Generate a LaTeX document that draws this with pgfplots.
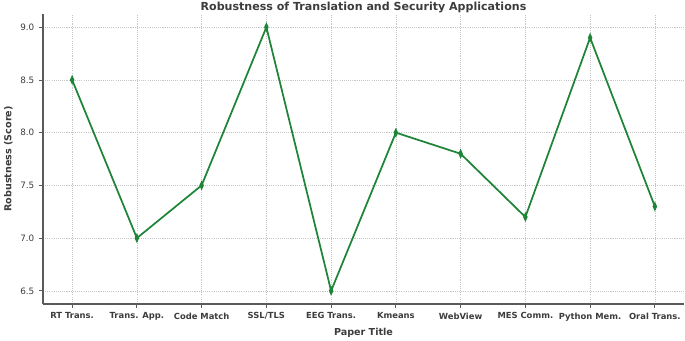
\documentclass[border=0pt]{standalone}
\usepackage{pgfplots}
\pgfplotsset{compat=1.18}
\usepackage{fontspec}
\setmainfont{DejaVu Sans}
\definecolor{linegreen}{RGB}{30,132,55}
\definecolor{spine}{RGB}{90,90,90}
\definecolor{txt}{RGB}{60,60,60}
\begin{document}
\begin{tikzpicture}
\begin{axis}[
  scale only axis,
  width=480.75pt, height=217.5pt,
  xmin=-0.45, xmax=9.45,
  ymin=6.375, ymax=9.125,
  axis x line*=bottom, axis y line*=left,
  axis line style={spine, line width=1pt},
  xtick={0,...,9},
  xticklabels={RT Trans., Trans. App., Code Match, SSL/TLS, EEG Trans., Kmeans, WebView, MES Comm., Python Mem., Oral Trans.},
  ytick={6.5,7.0,7.5,8.0,8.5,9.0},
  yticklabel style={/pgf/number format/fixed, /pgf/number format/fixed zerofill, /pgf/number format/precision=1},
  /pgf/number format/assume math mode=true,
  tick align=outside,
  major tick length=3pt,
  tick style={spine, line width=0.6pt},
  ticklabel style={font=\fontsize{6.6}{8}\selectfont, text=txt},
  xticklabel style={font=\fontsize{6.3}{8}\selectfont\bfseries, text=txt},
  grid=major,
  grid style={gray!45, line width=0.45pt, dash pattern=on 0.8pt off 0.8pt},
  title={\bfseries Robustness of Translation and Security Applications},
  title style={font=\fontsize{8.3}{10}\selectfont, text=txt, at={(axis description cs:0.5,1)}, anchor=south, inner sep=1pt, yshift=-6.5pt},
  xlabel={\bfseries Paper Title},
  ylabel={\bfseries Robustness (Score)},
  label style={font=\fontsize{7.2}{9}\selectfont, text=txt},
  xlabel style={at={(axis description cs:0.5,0)}, anchor=center, yshift=-22pt},
  ylabel style={at={(axis description cs:0,0.5)}, anchor=center, yshift=26pt},
]
\addplot[color=linegreen, line width=1.3pt, mark=diamond*, mark size=2.2pt, mark options={xscale=0.6, fill=linegreen}]
coordinates {(0,8.5) (1,7.0) (2,7.5) (3,9.0) (4,6.5) (5,8.0) (6,7.8) (7,7.2) (8,8.9) (9,7.3)};
\end{axis}
\pgfresetboundingbox
\path[use as bounding box] (-32.25pt,-27pt) rectangle (481.5pt,228pt);
\end{tikzpicture}
\end{document}
